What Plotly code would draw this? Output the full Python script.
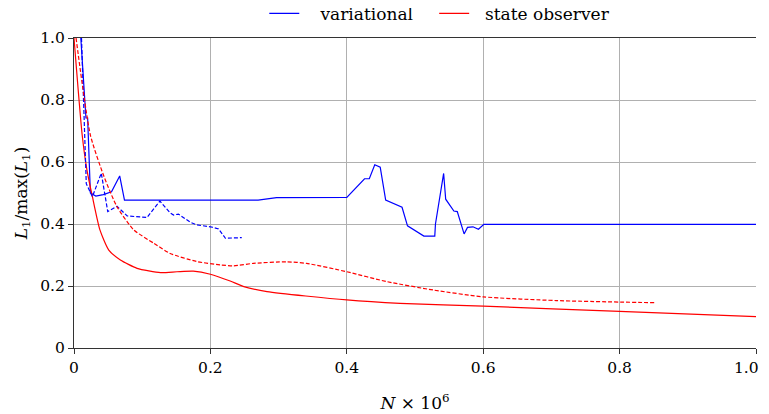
import plotly.graph_objects as go

# variational, solid
var_x = [0.010, 0.0175, 0.020, 0.024, 0.032, 0.043, 0.055, 0.067, 0.074, 0.27, 0.297, 0.40, 0.426, 0.433,
         0.441, 0.449, 0.457, 0.481, 0.489, 0.513, 0.529, 0.530, 0.542, 0.545, 0.557, 0.562, 0.572,
         0.577, 0.585, 0.593, 0.601, 1.0]
var_y = [1.0, 0.742, 0.742, 0.50, 0.49, 0.495, 0.504, 0.555, 0.477, 0.477, 0.485, 0.486, 0.546, 0.546,
         0.591, 0.583, 0.477, 0.454, 0.394, 0.361, 0.361, 0.40, 0.563, 0.48, 0.442, 0.44, 0.368,
         0.389, 0.391, 0.383, 0.399, 0.399]

# variational, dashed
vard_x = [0.011, 0.016, 0.018, 0.027, 0.040, 0.0495, 0.063, 0.078, 0.107, 0.126, 0.141, 0.146, 0.153,
          0.171, 0.180, 0.200, 0.212, 0.222, 0.246]
vard_y = [1.0, 0.69, 0.53, 0.488, 0.564, 0.44, 0.457, 0.426, 0.421, 0.474, 0.436, 0.429, 0.432,
          0.405, 0.397, 0.391, 0.384, 0.354, 0.356]

# state observer, solid
so_x = [0.0, 0.012, 0.019, 0.027, 0.038, 0.051, 0.068, 0.0925, 0.127, 0.151, 0.175, 0.2, 0.229,
        0.249, 0.283, 0.4, 0.478, 0.6, 0.8, 1.0]
so_y = [1.0, 0.687, 0.574, 0.488, 0.381, 0.316, 0.284, 0.257, 0.243, 0.246, 0.248, 0.238, 0.216,
        0.198, 0.182, 0.155, 0.144, 0.135, 0.118, 0.101]

# state observer, dashed
sod_x = [0.003, 0.024, 0.044, 0.063, 0.0876, 0.117, 0.141, 0.18, 0.2145, 0.234, 0.263, 0.312, 0.341,
         0.4, 0.459, 0.527, 0.6, 0.707, 0.853]
sod_y = [1.0, 0.687, 0.553, 0.456, 0.381, 0.338, 0.305, 0.279, 0.268, 0.265, 0.273, 0.278, 0.273,
         0.246, 0.214, 0.187, 0.165, 0.153, 0.146]

tick_vals = [0, 0.2, 0.4, 0.6, 0.8, 1.0]
tick_text = ["0", "0.2", "0.4", "0.6", "0.8", "1.0"]
# last x label is drawn as an annotation so it is not clipped at the page edge
x_tick_text = tick_text[:-1] + [""]

BLUE = "#0000ff"
RED = "#ff0000"
FONT = "DejaVu Serif"
FS = 15.5

fig = go.Figure()
fig.add_trace(go.Scatter(x=var_x, y=var_y, mode="lines",
                         name="&nbsp;&nbsp;&nbsp;variational&nbsp;&nbsp;&nbsp;",
                         line=dict(color=BLUE, width=1.2)))
fig.add_trace(go.Scatter(x=so_x, y=so_y, mode="lines", name="&nbsp;&nbsp;state observer",
                         line=dict(color=RED, width=1.2, shape="spline", smoothing=0.6)))
fig.add_trace(go.Scatter(x=vard_x, y=vard_y, mode="lines", showlegend=False,
                         line=dict(color=BLUE, width=1.2, dash="4px,2px")))
fig.add_trace(go.Scatter(x=sod_x, y=sod_y, mode="lines", showlegend=False,
                         line=dict(color=RED, width=1.2, dash="4px,2px", shape="spline", smoothing=0.6)))

fig.add_annotation(x=tick_vals[-1], xref="x", y=0, yref="paper", text=tick_text[-1],
                   showarrow=False, xanchor="right", yanchor="middle", xshift=5, yshift=-20,
                   font=dict(family=FONT, size=FS, color="black"))

fig.update_layout(
    width=761, height=406,
    margin=dict(l=65.5, r=12.5, t=30, b=66, autoexpand=False),
    paper_bgcolor="white", plot_bgcolor="white",
    font=dict(family=FONT, size=FS, color="black"),
    showlegend=True,
    legend=dict(orientation="h", x=0.279, y=1.02, xanchor="left", yanchor="bottom",
                font=dict(family=FONT, size=17), bgcolor="rgba(0,0,0,0)",
                itemwidth=30, tracegroupgap=0),
    xaxis=dict(range=[0, 1.0], tickvals=tick_vals, ticktext=x_tick_text,
               showgrid=True, gridcolor="#b0b0b0", gridwidth=1,
               showline=True, linecolor="#333333", linewidth=1.2, mirror=True,
               ticks="outside", ticklen=5, tickcolor="#333333",
               zeroline=False, tickfont=dict(family=FONT, size=FS),
               title=dict(text="<i>N</i> × 10<sup>6</sup>", font=dict(family=FONT, size=17), standoff=21)),
    yaxis=dict(range=[0, 1.0], tickvals=tick_vals, ticktext=tick_text,
               showgrid=True, gridcolor="#b0b0b0", gridwidth=1,
               showline=True, linecolor="#333333", linewidth=1.2,
               ticks="outside", ticklen=5, tickcolor="#333333",
               zeroline=False, tickfont=dict(family=FONT, size=FS),
               title=dict(text="<i>L</i><sub>1</sub>/max(<i>L</i><sub>1</sub>)",
                          font=dict(family=FONT, size=17), standoff=8)),
)

fig.write_html("out.html")
